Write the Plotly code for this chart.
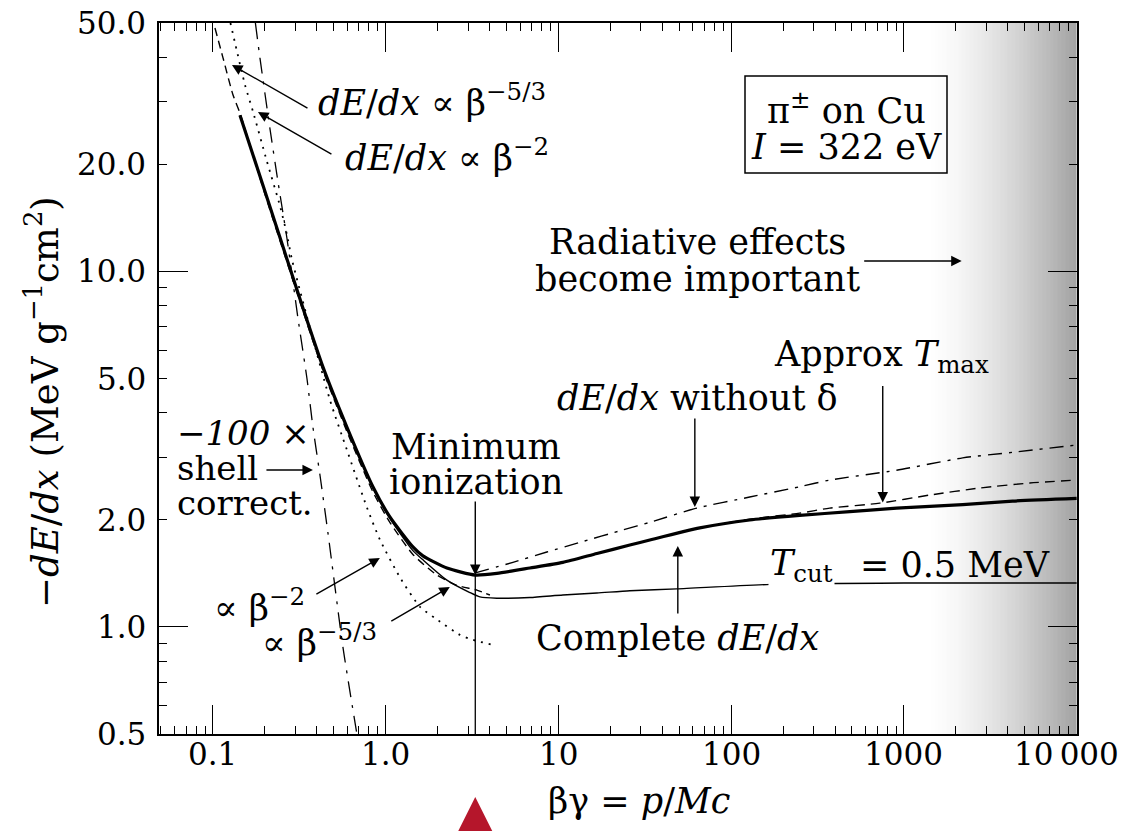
import numpy as np
import plotly.graph_objects as go

# ---- curves: beta*gamma vs -dE/dx (MeV g^-1 cm^2), pi+- on copper ----
complete_bg = [0.1433, 0.2, 0.3317, 0.433, 0.596, 0.843, 1.057, 1.437, 1.642, 2.26, 3.3,
               4.4, 6.83, 10.6, 16.7, 25.9, 33.8, 65.8, 128, 249, 486, 908, 2190, 4260, 10000]
complete_dedx = [27.5, 16.8, 7.89, 5.39, 3.65, 2.48, 2.04, 1.68, 1.585, 1.465, 1.40,
                 1.415, 1.465, 1.52, 1.61, 1.70, 1.757, 1.90, 2.0, 2.06, 2.11, 2.16, 2.21, 2.26, 2.30]

tcut_bg = [0.1433, 0.2, 0.3317, 0.433, 0.596, 0.843, 1.057, 1.437, 1.642, 2.26, 3.07, 3.51,
           4.4, 6.83, 10.6, 16.7, 25.9, 48.4, 184, 1000, 10000]
tcut_dedx = [27.5, 16.8, 7.89, 5.39, 3.65, 2.47, 2.02, 1.64, 1.545, 1.355, 1.25, 1.215,
             1.205, 1.21, 1.23, 1.246, 1.265, 1.28, 1.32, 1.33, 1.33]

nodelta_bg = [3.3, 5.45, 8.57, 13.3, 23.6, 33.8, 63.2, 128, 249, 372, 908, 2190, 4260, 10000]
nodelta_dedx = [1.42, 1.52, 1.625, 1.73, 1.875, 1.97, 2.16, 2.32, 2.48, 2.59, 2.76, 2.99, 3.10, 3.25]

tmax_bg = [33.8, 65.8, 128, 249, 372, 724, 1410, 2750, 5350, 10000]
tmax_dedx = [1.757, 1.90, 2.01, 2.09, 2.16, 2.23, 2.35, 2.46, 2.54, 2.59]

beta2_bg = [0.1262, 0.1532, 0.1704, 0.2053, 0.2442, 0.268, 0.2866, 0.4755, 0.596, 0.778,
            0.926, 1.208, 1.577, 1.978, 2.69, 3.20, 4.17]
beta2_dedx = [50.0, 33.5, 28.2, 20.4, 15.3, 12.7, 10.8, 4.35, 3.15, 2.17,
              1.76, 1.38, 1.14, 1.05, 0.95, 0.92, 0.89]

beta53_bg = [0.1027, 0.1143, 0.1305, 0.1433, 0.2, 0.3317, 0.433, 0.596, 0.843, 1.057,
             1.437, 1.978, 2.58, 3.37, 4.01]
beta53_dedx = [48.4, 39.9, 31.4, 27.9, 16.5, 7.75, 5.27, 3.55, 2.40, 1.97,
               1.60, 1.40, 1.31, 1.27, 1.23]

shell_bg = [0.176, 0.187, 0.2138, 0.2378, 0.268, 0.3103, 0.35, 0.379, 0.416, 0.463, 0.565, 0.681]
shell_dedx = [50.0, 39.9, 25.2, 17.9, 12.4, 7.4, 5.0, 3.65, 2.68, 1.84, 0.88, 0.50]

# minimum-ionization point
min_bg = complete_bg[int(np.argmin(complete_dedx))]
min_dedx = min(complete_dedx)

# ---- axes ----
x_range = [-1.3125, 4.002]
y_range = [np.log10(0.5), np.log10(50)]
x_tickvals = [0.1, 1, 10, 100, 1000, 10000]
x_ticktext = ["0.1", "1.0", "10", "100", "1000", "10\u2009000"]
y_tickvals = [0.5, 1, 2, 5, 10, 20, 50]
y_ticktext = ["0.5", "1.0", "2.0", "5.0", "10.0", "20.0", "50.0"]
y_long = [1, 10]
radiative_start = 1300

FONT = "DejaVu Serif"
TXT = 35
TICK = 31
W, H = 1124, 831
ML, MR, MT, MB = 159, 47, 23, 97


def paper(xp, yp):
    return (xp - ML) / (W - ML - MR), (H - MB - yp) / (H - MT - MB)


fig = go.Figure()

# shaded band where radiative losses matter (base y axis, under the curves)
edges = np.logspace(np.log10(radiative_start), 4.002, 41)
frac = (np.log10(edges[:-1]) - np.log10(radiative_start)) / (4.002 - np.log10(radiative_start))
fig.add_trace(go.Heatmap(
    x=edges, y=[0.5, 50], z=[list(frac ** 1.5)], zmin=0, zmax=1,
    colorscale=[[0, "rgb(255,255,255)"], [1, "rgb(160,160,160)"]],
    showscale=False, hoverinfo="skip"))


def curve(x, y, width, dash=None):
    fig.add_trace(go.Scatter(
        x=x, y=y, mode="lines", hoverinfo="skip", showlegend=False, yaxis="y2",
        line=dict(color="black", width=width, dash=dash, shape="spline", smoothing=0.6)))


curve(shell_bg, shell_dedx, 1.3, "16px,8px,3px,8px")
curve(beta2_bg, beta2_dedx, 1.8, "2px,6px")
curve(beta53_bg, beta53_dedx, 1.4, "8px,5px")
curve(tcut_bg, tcut_dedx, 1.4)
curve(nodelta_bg, nodelta_dedx, 1.4, "14px,7px,3px,7px")
curve(tmax_bg, tmax_dedx, 1.4, "10px,6px")
curve(complete_bg, complete_dedx, 3.2)

# vertical marker under the minimum
fig.add_trace(go.Scatter(x=[min_bg, min_bg], y=[0.5, min_dedx], mode="lines", yaxis="y2",
                         line=dict(color="black", width=1.3), hoverinfo="skip", showlegend=False))

annotations = []


def arrow(x, y, ax, ay, color="black", width=1.4, size=1.5, head=2):
    annotations.append(dict(x=np.log10(x), y=np.log10(y), xref="x", yref="y", ax=ax, ay=ay,
                            text="", showarrow=True, arrowhead=head, arrowsize=size,
                            arrowwidth=width, arrowcolor=color, standoff=0, startstandoff=0))


def label(text, xp, yp, xanchor="left", size=TXT, **kw):
    px_, py_ = paper(xp, yp)
    annotations.append(dict(x=px_, y=py_, xref="paper", yref="paper", text=text,
                            showarrow=False, xanchor=xanchor, yanchor="middle",
                            font=dict(family=FONT, size=size, color="black"), **kw))


DEDX = "<i>dE</i>/<i>dx</i>"

arrow(0.1288, 38.1, 77, 44)
arrow(0.1821, 28.1, 75, 43)
arrow(2160, 10.7, -99, 0)
arrow(754, 2.24, 0, -118)
arrow(61.6, 2.175, 0, -90)
arrow(min_bg, min_dedx, 0, -75)
arrow(0.379, 2.765, -48, 0)
arrow(0.925, 1.563, -65, 37)
arrow(2.35, 1.296, -60, 35)
arrow(49.1, 1.69, 0, 69)

label(DEDX + " ∝ β<sup>−5/3</sup>", 316, 100)
label(DEDX + " ∝ β<sup>−2</sup>", 343, 155)
label("π<sup>±</sup> on Cu", 846, 108, xanchor="center")
label("<i>I</i> = 322 eV", 846, 147, xanchor="center")
label("Radiative effects", 697, 242, xanchor="center")
label("become important", 697, 279, xanchor="center")
label("Approx <i>T</i><sub>max</sub>", 772, 356)
label(DEDX + " without δ", 555, 398)
label("Minimum", 476, 447, xanchor="center")
label("ionization", 476, 482, xanchor="center")
label("<i>−100</i> ×", 175, 433, size=34)
label("shell", 175, 468, size=34)
label("correct.", 175, 503, size=34)
label("∝ β<sup>−2</sup>", 212, 605)
label("∝ β<sup>−5/3</sup>", 260, 640)
label("Complete " + DEDX, 534, 638)
label("<i>T</i><sub>cut</sub>", 768, 565, bgcolor="white")
label("= 0.5 MeV", 858, 565)

# tick labels (the last one is kept inside the page edge)
_, x_lab_y = paper(0, 754)
right_x, _ = paper(1121, 0)
for v, t in zip(x_tickvals, x_ticktext):
    if v == x_tickvals[-1]:
        annotations.append(dict(x=right_x, y=x_lab_y, xref="paper", yref="paper", text=t,
                                showarrow=False, xanchor="right", yanchor="middle",
                                font=dict(family=FONT, size=TICK, color="black")))
    else:
        annotations.append(dict(x=np.log10(v), y=x_lab_y, xref="x", yref="paper", text=t,
                                showarrow=False, xanchor="center", yanchor="middle",
                                font=dict(family=FONT, size=TICK, color="black")))
y_lab_x, _ = paper(148, 0)
for v, t in zip(y_tickvals, y_ticktext):
    annotations.append(dict(x=y_lab_x, y=np.log10(v), xref="paper", yref="y", text=t,
                            showarrow=False, xanchor="right", yanchor="middle",
                            font=dict(family=FONT, size=TICK, color="black")))

# axis titles
label("βγ = <i>p</i>/<i>Mc</i>", 639, 801, xanchor="center", size=35)
tx, ty = paper(42, 402)
annotations.append(dict(x=tx, y=ty, xref="paper", yref="paper", showarrow=False,
                        text="−" + DEDX + " (MeV g<sup>−1</sup>cm<sup>2</sup>)", textangle=-90,
                        xanchor="center", yanchor="middle",
                        font=dict(family=FONT, size=37, color="black")))

# red pointer below the axis at the minimum
rx, ry = paper(0, 797)
annotations.append(dict(x=np.log10(min_bg), y=ry, xref="x", yref="paper", ax=0, ay=45,
                        text="", showarrow=True, arrowhead=2, arrowsize=2.2, arrowwidth=4,
                        arrowcolor="#b5162b", standoff=0, startstandoff=0))

# box around the material legend
bx0, by0 = paper(745, 173)
bx1, by1 = paper(947, 76)
shapes = [dict(type="rect", xref="paper", yref="paper", x0=bx0, y0=by0, x1=bx1, y1=by1,
               line=dict(color="black", width=1.5), fillcolor="rgba(0,0,0,0)")]

x_minor = [k * 10 ** e for e in range(-2, 4) for k in range(2, 10) if 0.0487 < k * 10 ** e < 10000]
y_minor = [0.6, 0.7, 0.8, 0.9, 3, 4, 6, 7, 8, 9, 30, 40]

axis_common = dict(showline=True, linecolor="black", linewidth=1.6, mirror="ticks",
                   ticks="inside", tickcolor="black", showgrid=False, zeroline=False,
                   showticklabels=False)

fig.update_layout(
    width=W, height=H, margin=dict(l=ML, r=MR, t=MT, b=MB),
    paper_bgcolor="white", plot_bgcolor="white", showlegend=False,
    font=dict(family=FONT, color="black", size=30),
    annotations=annotations, shapes=shapes,
    xaxis=dict(type="log", range=x_range, ticklen=29, tickwidth=1.4,
               tickmode="array", tickvals=x_tickvals,
               minor=dict(ticks="inside", ticklen=8, tickwidth=1.2, tickcolor="black",
                          tickmode="array", tickvals=x_minor, showgrid=False),
               **axis_common),
    yaxis=dict(type="log", range=y_range, ticklen=8, tickwidth=1.2,
               tickmode="array", tickvals=y_tickvals,
               minor=dict(ticks="inside", ticklen=8, tickwidth=1.2, tickcolor="black",
                          tickmode="array", tickvals=y_minor, showgrid=False),
               **axis_common),
    yaxis2=dict(type="log", range=y_range, overlaying="y", side="left", anchor="x",
                ticklen=29, tickwidth=1.4, tickmode="array", tickvals=y_long,
                **axis_common),
)

fig.write_html("out.html")
